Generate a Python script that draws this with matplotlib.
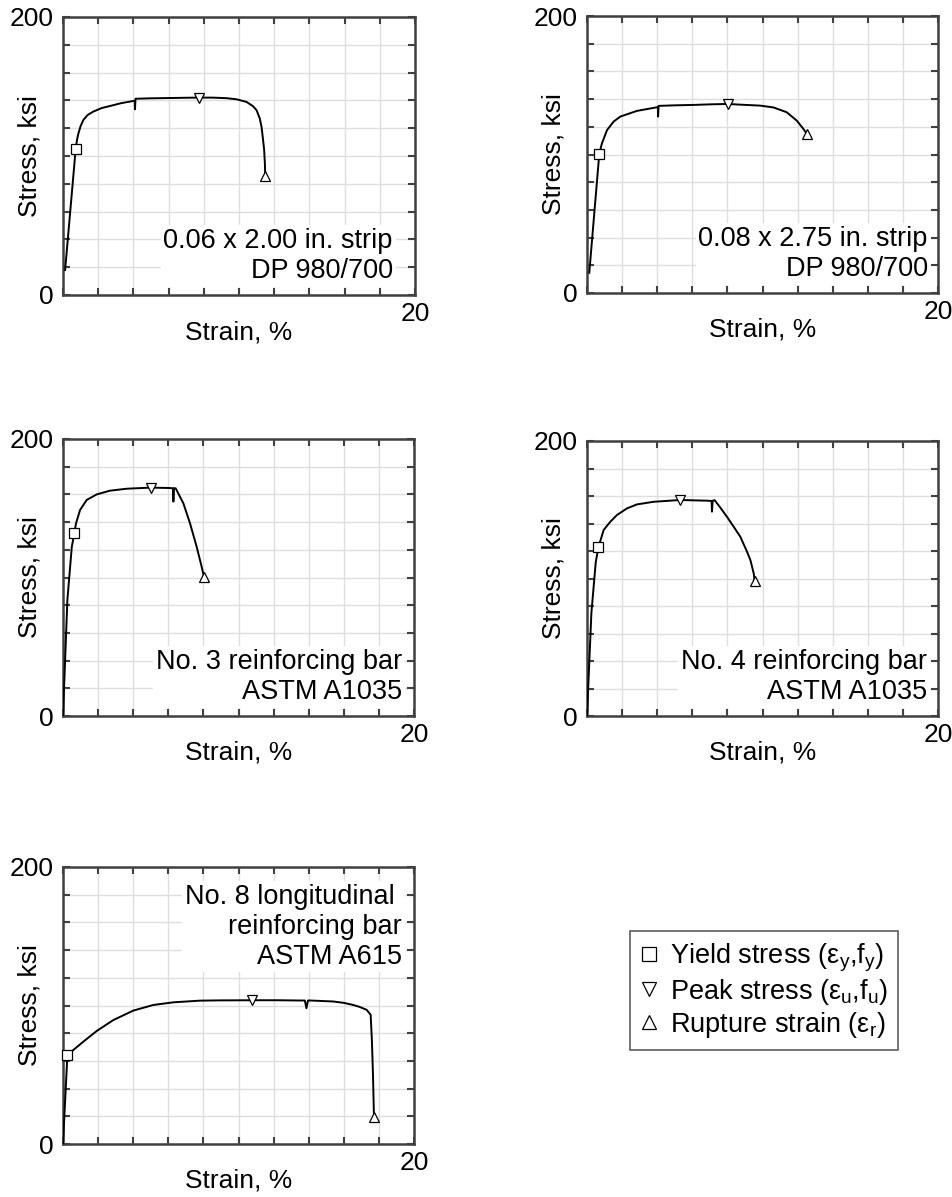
import numpy as np
import matplotlib.pyplot as plt
from matplotlib.lines import Line2D

plt.rcParams['font.family'] = ['Liberation Sans', 'DejaVu Sans']
plt.rcParams['mathtext.default'] = 'regular'

# stress-strain records (strain in %, stress in ksi)
strip06_strain = [0.12, 0.72, 0.8, 0.87, 1.0, 1.16, 1.4, 1.73, 2.2, 2.68, 3.3, 4.0, 4.08, 4.09, 4.12,
                  5.0, 6.0, 7.0, 7.7, 8.5, 9.29, 9.86, 10.43, 10.8, 11.0, 11.18, 11.28, 11.37, 11.43,
                  11.47, 11.49]
strip06_stress = [18, 104.9, 112, 116, 121.5, 126, 129.5, 132, 134.5, 136, 138, 139.6, 139.6, 133.6, 141.2,
                  141.5, 141.7, 141.9, 142, 142, 141.6, 140.8, 138.9, 135.8, 132.9, 127, 121, 111.4, 104.2,
                  94.6, 85.7]

strip08_strain = [0.13, 0.7, 0.85, 1.14, 1.52, 1.9, 2.85, 3.99, 4.04, 4.05, 4.08,
                  5.0, 6.08, 7.0, 8.03, 8.72, 9.86, 10.62, 11.38, 11.95, 12.33, 12.52]
strip08_stress = [14.6, 100.5, 108, 117.6, 123.8, 127.4, 131.5, 134.1, 134.1, 127.4, 135.1,
                  135.5, 135.8, 136.2, 136.5, 136, 135.3, 134, 130.5, 124.5, 118.5, 114.9]

no3_strain = [0, 0.25, 0.5, 0.65, 0.74, 0.97, 1.35, 1.92, 2.68, 3.63, 5.0, 6.1, 6.27, 6.29, 6.32,
              6.42, 6.86, 7.24, 7.62, 7.9, 8.03]
no3_stress = [0, 84, 122, 132.4, 139, 148.7, 156, 160, 162.7, 164.1, 164.9, 164.6, 164.4, 154.8, 164.4,
              164.4, 153.5, 139, 122, 107.8, 100.6]

no4_strain = [0, 0.25, 0.5, 0.65, 0.95, 1.33, 1.71, 2.28, 2.85, 3.8, 5.32, 6.2, 6.84, 7.1, 7.12, 7.16,
              7.27, 7.6, 7.98, 8.36, 8.74, 9.12, 9.31, 9.5, 9.55]
no4_stress = [0, 75, 112, 122.7, 135.3, 141.3, 146.2, 151, 153.9, 155.8, 157.1, 156.8, 156.6, 156.4, 148.6, 156.5,
              157, 151.5, 144.8, 137.6, 130.3, 119.4, 113.4, 103.7, 98.2]

no8_strain = [0, 0.25, 0.59, 1.16, 1.92, 2.87, 4.0, 5.15, 6.29, 7.8, 8.95, 10.77, 12.2, 13.5,
              13.78, 13.87, 13.96, 14.1, 15.4, 16.0, 16.5, 16.9, 17.3, 17.53, 17.6, 17.66, 17.72]
no8_stress = [0, 64.3, 67.9, 73.9, 81.6, 89.5, 96.3, 100.4, 102.3, 103.5, 103.7, 103.8, 103.8, 103.6,
              103.6, 98, 103.6, 103.6, 102.9, 101.9, 100.5, 99, 96.9, 93.3, 75, 51, 19.3]

# characteristic points: yield, peak, rupture
yield_pts = [(0.72, 104.9), (0.7, 100.5), (0.65, 132.4), (0.65, 122.7), (0.25, 64.3)]
peak_pts = [(7.7, 142), (8.03, 136.5), (5.0, 164.9), (5.32, 157.1), (10.77, 103.8)]
rupture_pts = [(11.49, 85.7), (12.52, 114.9), (8.03, 100.6), (9.55, 98.2), (17.72, 19.3)]

labels = ["0.06 x 2.00 in. strip\nDP 980/700",
          "0.08 x 2.75 in. strip\nDP 980/700",
          "No. 3 reinforcing bar\nASTM A1035",
          "No. 4 reinforcing bar\nASTM A1035",
          "No. 8 longitudinal \nreinforcing bar\nASTM A615"]

curves = [(strip06_strain, strip06_stress), (strip08_strain, strip08_stress),
          (no3_strain, no3_stress), (no4_strain, no4_stress), (no8_strain, no8_stress)]

W, H = 952, 1197
# axes boxes in pixels: left, top, right, bottom
boxes = [(63, 17, 415, 295), (587, 16, 938, 293),
         (63, 439, 414, 716), (587, 441, 938, 716),
         (63, 867, 414, 1144)]
label_x = [0.937, 0.971, 0.966, 0.969, 0.966]

FS = 19
FS_NOTE = 19.5
edge = '#404040'

fig = plt.figure(figsize=(W / 100, H / 100), dpi=100)

for i, (x0, y0, x1, y1) in enumerate(boxes):
    ax = fig.add_axes([x0 / W, 1 - y1 / H, (x1 - x0) / W, (y1 - y0) / H])
    ax.set_axisbelow(True)
    strain, stress = curves[i]
    ax.plot(strain, stress, color='black', lw=1.4, zorder=3, solid_joinstyle='round')
    mk = dict(mfc='white', mec='black', ms=6.5, mew=0.9, ls='none', zorder=4, clip_on=False)
    ax.plot(*yield_pts[i], marker='s', **mk)
    ax.plot(*peak_pts[i], marker='v', **mk)
    ax.plot(*rupture_pts[i], marker='^', **mk)

    ax.set_xlim(0, 20)
    ax.set_ylim(0, 200)
    xt = np.arange(0, 21, 2)
    yt = np.arange(0, 201, 20)
    ax.set_xticks(xt)
    ax.set_yticks(yt)
    ax.set_xticklabels(['20' if v == 20 else '' for v in xt])
    ax.set_yticklabels([str(v) if v in (0, 200) else '' for v in yt])
    ax.tick_params(direction='in', top=True, right=True, length=5, width=1.5,
                   color=edge, labelsize=FS)
    ax.tick_params(axis='x', pad=5)
    ax.tick_params(axis='y', pad=7)
    ax.grid(True, color='#dedede', lw=1.0)
    for sp in ax.spines.values():
        sp.set_color(edge)
        sp.set_linewidth(1.8)

    ax.set_ylabel('Stress, ksi', fontsize=FS)
    ax.yaxis.set_label_coords(-0.06, 0.5)
    ax.set_xlabel('Strain, %', fontsize=FS)
    ax.xaxis.set_label_coords(0.5, -0.09)
    ax.xaxis.label.set_va('top')

    if i < 4:
        ax.text(label_x[i], 0.04, labels[i], transform=ax.transAxes, ha='right', va='bottom',
                multialignment='right', fontsize=FS_NOTE, zorder=5,
                bbox=dict(facecolor='white', edgecolor='none', pad=2))
    else:
        ax.text(label_x[i], 0.94, labels[i], transform=ax.transAxes, ha='right', va='top',
                multialignment='right', fontsize=FS_NOTE, zorder=5,
                bbox=dict(facecolor='white', edgecolor='none', pad=2))

handles = [Line2D([], [], marker=m, mfc='white', mec='black', ms=10, mew=0.9, ls='none')
           for m in ('s', 'v', '^')]
names = ['Yield stress (ε$_y$,f$_y$)', 'Peak stress (ε$_u$,f$_u$)', 'Rupture strain (ε$_r$)']
leg = fig.legend(handles, names, loc='upper left', bbox_to_anchor=(630 / W, 1 - 931 / H),
                 borderaxespad=0, fontsize=FS_NOTE, frameon=True, fancybox=False,
                 edgecolor='#333333', handlelength=0.6, handletextpad=0.46,
                 borderpad=0.4, labelspacing=0.1)
leg.get_frame().set_linewidth(1.2)

fig.savefig('out.png', dpi=100)
